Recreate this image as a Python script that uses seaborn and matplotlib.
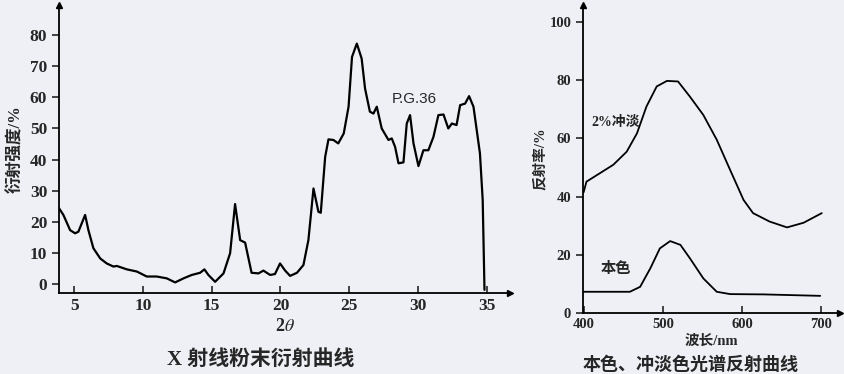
import matplotlib
matplotlib.use("Agg")
import matplotlib.pyplot as plt
import seaborn as sns

# X-ray powder diffraction curve (2theta, intensity %)
xrd_2theta = [3.91, 4.22, 4.71, 5.07, 5.31, 5.8, 6.04, 6.4, 6.9, 7.37, 7.86, 8.1, 8.83,
              9.56, 10.28, 11.0, 11.74, 12.34, 12.95, 13.55, 14.16, 14.47, 14.76, 15.25,
              15.86, 16.34, 16.7, 17.07, 17.43, 17.9, 18.4, 18.76, 19.25, 19.6, 19.97,
              20.34, 20.7, 21.2, 21.67, 22.03, 22.4, 22.76, 22.93, 23.25, 23.49, 23.85,
              24.2, 24.6, 24.95, 25.2, 25.55, 25.9, 26.15, 26.5, 26.76, 27.0, 27.36,
              27.85, 28.09, 28.33, 28.58, 28.94, 29.18, 29.42, 29.67, 30.03, 30.39,
              30.75, 31.12, 31.48, 31.85, 32.2, 32.46, 32.8, 33.06, 33.42, 33.71,
              34.03, 34.5, 34.7, 34.83]
xrd_intensity = [24.3, 22.2, 17.3, 16.3, 16.8, 22.2, 17.3, 11.5, 8.2, 6.6, 5.6, 5.8, 4.7,
                 4.0, 2.4, 2.4, 1.8, 0.5, 1.8, 2.9, 3.6, 4.7, 2.9, 0.7,
                 3.4, 9.9, 25.7, 14.1, 13.3, 3.6, 3.4, 4.3, 2.9, 3.2, 6.6,
                 4.3, 2.6, 3.6, 6.1, 14.1, 30.7, 23.2, 22.9, 40.9, 46.5, 46.3,
                 45.2, 48.4, 57.0, 73.0, 77.3, 72.5, 62.8, 55.4, 54.8, 57.0, 50.0,
                 46.3, 46.8, 44.1, 38.8, 39.1, 51.6, 54.3, 45.2, 37.9, 43.0,
                 43.0, 47.3, 54.3, 54.5, 50.0, 51.6, 51.1, 57.5, 58.0, 60.4,
                 57.0, 42.0, 27.0, -1.9]

# spectral reflectance curves (wavelength nm, reflectance %)
dilute_nm = [399.5, 403, 420, 437, 454, 467, 479, 492, 505, 519, 534, 551, 568, 585,
             602, 614, 635, 657, 678, 701]
dilute_refl = [41.5, 45.1, 48.0, 50.9, 55.4, 61.7, 70.9, 77.8, 79.7, 79.5, 74.3, 68.0,
               59.5, 49.1, 38.8, 34.3, 31.4, 29.4, 31.0, 34.3]
base_nm = [399.5, 458, 471, 484, 496, 509, 522, 534, 551, 568, 585, 627, 699]
base_refl = [7.3, 7.3, 9.0, 15.4, 22.2, 24.7, 23.4, 18.8, 11.9, 7.3, 6.5, 6.4, 5.9]

sns.set_style("ticks")
bg = "#eef0f5"
plt.rcParams["font.family"] = ["Liberation Serif", "Noto Sans CJK SC"]
plt.rcParams["mathtext.fontset"] = "stix"
plt.rcParams["axes.facecolor"] = bg
plt.rcParams["figure.facecolor"] = bg

fig = plt.figure(figsize=(8.45, 3.74), dpi=100)
ax1 = fig.add_axes([0.0698, 0.2166, 0.534, 0.770])
ax2 = fig.add_axes([0.690, 0.163, 0.304, 0.824])

def style_axes(ax):
    for s in ["top", "right"]:
        ax.spines[s].set_visible(False)
    for s in ["left", "bottom"]:
        ax.spines[s].set_linewidth(1.3)
        ax.spines[s].set_color("black")
    ax.plot(1, 0, ">k", transform=ax.transAxes, clip_on=False, ms=5)
    ax.plot(0, 1, "^k", transform=ax.transAxes, clip_on=False, ms=5)
    ax.tick_params(axis="y", direction="out", length=5, width=1.2)
    ax.tick_params(axis="x", direction="in", length=5, width=1.2)
    for lab in ax.get_xticklabels() + ax.get_yticklabels():
        lab.set_fontweight("bold")

# left: XRD
sns.lineplot(x=xrd_2theta, y=xrd_intensity, ax=ax1, color="black", lw=1.6, sort=False)
ax1.set_xlim(3.9, 36.7)
ax1.set_ylim(-2.9, 89.7)
ax1.set_xticks([5, 10, 15, 20, 25, 30, 35])
ax1.set_yticks(range(0, 81, 10))
ax1.tick_params(labelsize=12.5)
style_axes(ax1)
ax1.set_xlabel("2$\\theta$", fontsize=13, fontweight="bold", labelpad=3)
ax1.set_ylabel("衍射强度/%", fontsize=12, fontweight="bold", labelpad=4)
ax1.text(29.7, 59.5, "P.G.36", family="Liberation Sans", fontsize=11, ha="center", va="center")
fig.text(0.308, 0.038, "X 射线粉末衍射曲线", fontsize=15, fontweight="bold",
         ha="center", va="center")

# right: reflectance
sns.lineplot(x=dilute_nm, y=dilute_refl, ax=ax2, color="black", lw=1.3, sort=False)
sns.lineplot(x=base_nm, y=base_refl, ax=ax2, color="black", lw=1.3, sort=False)
ax2.set_xlim(398.7, 724)
ax2.set_ylim(0, 105.8)
ax2.set_xticks([400, 500, 600, 700])
ax2.set_yticks(range(0, 101, 20))
ax2.tick_params(labelsize=10.5)
style_axes(ax2)
ax2.text(409, 65.5, "2%冲淡", fontsize=10, fontweight="bold", ha="left", va="center")
ax2.text(421, 15, "本色", fontsize=11, fontweight="bold", ha="left", va="center")
ax2.set_xlabel("波长/nm", fontsize=10.5, fontweight="bold", labelpad=3)
ax2.set_ylabel("反射率/%", fontsize=10.5, fontweight="bold", labelpad=2)
fig.text(0.817, 0.025, "本色、冲淡色光谱反射曲线", fontsize=13, fontweight="bold",
         ha="center", va="center")

fig.savefig("out.png", dpi=100, facecolor=bg)
